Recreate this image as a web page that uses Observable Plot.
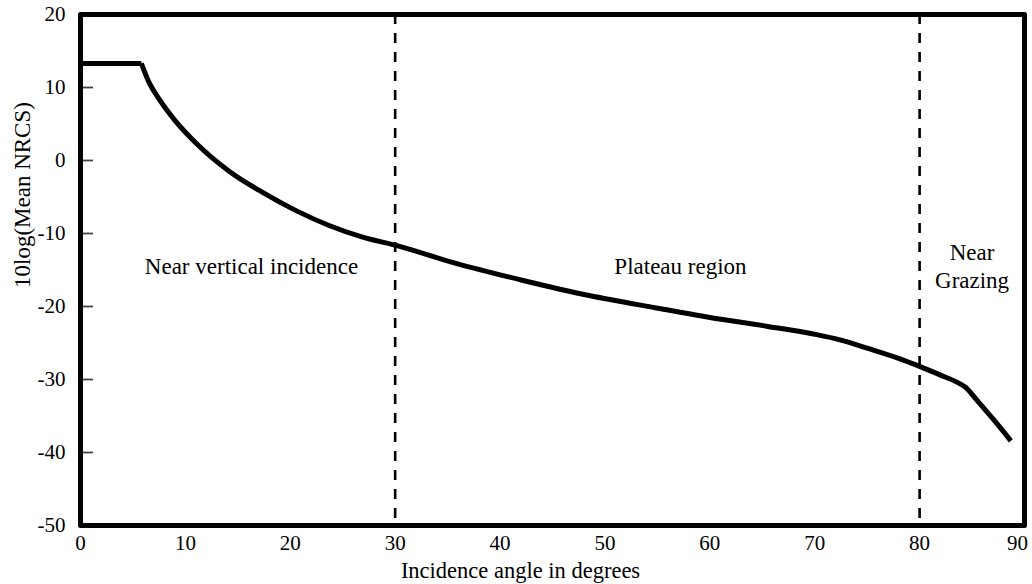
<!DOCTYPE html>
<html><head><meta charset="utf-8">
<script src="https://cdn.jsdelivr.net/npm/d3@7"></script>
<script src="https://cdn.jsdelivr.net/npm/@observablehq/plot@0.6"></script>
<style>body{margin:0;background:#fff}</style>
</head><body><div id="chart"></div>
<script>
// Incidence angle (degrees) and 10log(Mean NRCS)
const angle = [0, 5.8, 6.5, 7.5, 9.0, 11.0, 14.2, 17.4, 20.6, 23.7, 26.9, 30.0, 35.8, 42.1, 48.5, 54.9, 60.0, 65.4, 70.0, 72.5, 75.0, 78.0, 80.0, 82.0, 83.6, 84.4, 85.5, 87.0, 88.7];
const nrcs  = [13.3, 13.3, 10.8, 8.4, 5.5, 2.4, -1.5, -4.4, -6.9, -8.9, -10.5, -11.6, -14.1, -16.4, -18.5, -20.2, -21.5, -22.7, -23.8, -24.6, -25.7, -27.1, -28.2, -29.4, -30.4, -31.1, -32.9, -35.4, -38.4];
const xTicks = [0, 10, 20, 30, 40, 50, 60, 70, 80];
const xLastTick = [90];
const yTicks = [-50, -40, -30, -20, -10, 0, 10, 20];
const boundaries = [30, 80];
const regionLabels = ["Near vertical incidence", "Plateau region", "Near\nGrazing"];
const regionX = [16.3, 57.2, 85.0];
const regionY = [-14.3, -14.3, -14.3];

const font = "Liberation Serif, Times New Roman, serif";
const rows = angle.map((a, i) => ({a, v: nrcs[i]}));
const regions = regionLabels.map((t, i) => ({t, x: regionX[i], y: regionY[i]}));
const fmt = d => String(d);

const chart = Plot.plot({
  width: 1032,
  height: 584,
  marginLeft: 80,
  marginRight: 8,
  marginTop: 14,
  marginBottom: 59,
  style: {fontFamily: font, fontSize: "21px", color: "black", background: "white"},
  x: {domain: [0, 90]},
  y: {domain: [-50, 20]},
  marks: [
    Plot.ruleX(boundaries, {stroke: "black", strokeWidth: 2.6, strokeDasharray: "10,9"}),
    Plot.line(rows.slice(0, 2), {x: "a", y: "v", stroke: "black", strokeWidth: 5, strokeLinecap: "butt"}),
    Plot.line(rows.slice(1), {x: "a", y: "v", stroke: "black", strokeWidth: 5, curve: "monotone-x", strokeLinecap: "butt"}),
    Plot.text(regions, {x: "x", y: "y", text: "t", fontSize: 23, fontFamily: font, lineHeight: 1.2, fill: "black"}),
    Plot.axisX(xTicks, {tickSize: 0, tickPadding: 10, fontSize: 21, fontFamily: font, label: null, fill: "black", tickFormat: fmt}),
    Plot.axisX(xLastTick, {tickSize: 0, tickPadding: 10, fontSize: 21, fontFamily: font, label: null, fill: "black", tickFormat: fmt, dx: -7}),
    Plot.axisY(yTicks, {tickSize: 0, tickPadding: 15, fontSize: 21, fontFamily: font, label: null, fill: "black", tickFormat: fmt}),
    Plot.tickY(yTicks, {stroke: "#444", strokeWidth: 1.8, insetRight: 931}),
    Plot.text(["Incidence angle in degrees"], {frameAnchor: "bottom", dy: 45, dx: -32, fontSize: 22.5, fontFamily: font, lineAnchor: "middle", fill: "black"}),
    Plot.text(["10log(Mean NRCS)"], {frameAnchor: "left", dx: -58, dy: 18, rotate: -90, fontSize: 23, fontFamily: font, fill: "black"}),
    Plot.frame({stroke: "black", strokeWidth: 5, strokeLinejoin: "round"})
  ]
});
document.getElementById("chart").appendChild(chart);
</script>
</body></html>
